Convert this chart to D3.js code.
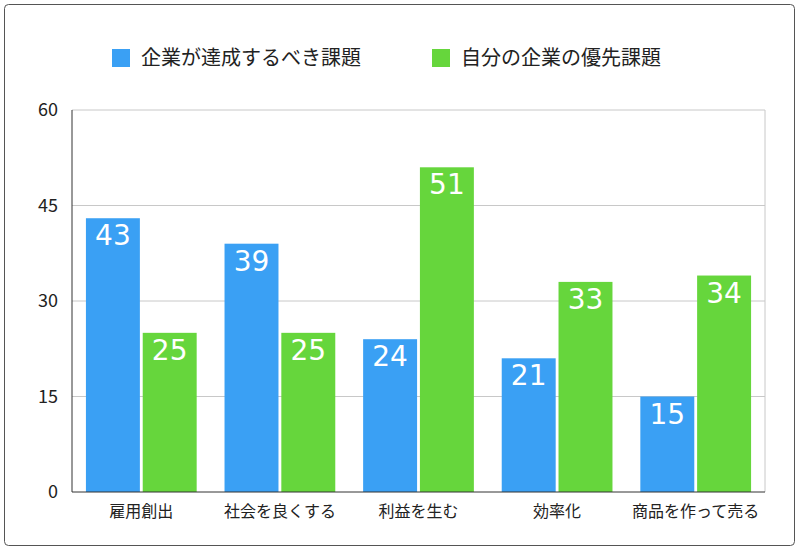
<!DOCTYPE html>
<html><head><meta charset="utf-8">
<script src="https://cdn.jsdelivr.net/npm/d3@7"></script>
<style>body{margin:0;background:#fff;font-family:"Noto Sans CJK JP","Noto Sans",sans-serif;}</style>
</head><body><div id="chart"></div>
<script>
const categories = ["雇用創出", "社会を良くする", "利益を生む", "効率化", "商品を作って売る"];
const seriesNames = ["企業が達成するべき課題", "自分の企業の優先課題"];
const companyGoals = [43, 39, 24, 21, 15];
const ownPriorities = [25, 25, 51, 33, 34];
const yTicks = [0, 15, 30, 45, 60];
const colors = ["#3aa0f4", "#66d63c"];

const W = 800, H = 551;
const svg = d3.select("#chart").append("svg").attr("width", W).attr("height", H);
svg.append("rect").attr("x", 4.5).attr("y", 4.5).attr("width", 790).attr("height", 541)
  .attr("rx", 4).attr("fill", "#fff").attr("stroke", "#555").attr("stroke-width", 1);

const plotLeft = 72, plotRight = 765, plotTop = 110, plotBottom = 492;
const x0 = d3.scaleBand().domain(categories).range([plotLeft, plotRight]).paddingInner(0.16).paddingOuter(0.08);
const x1 = d3.scaleBand().domain([0, 1]).range([0, x0.bandwidth()]).padding(0.05);
const y = d3.scaleLinear().domain([0, 60]).range([plotBottom, plotTop]);

// grid
svg.append("g").selectAll("line").data(yTicks.slice(1)).join("line")
  .attr("x1", plotLeft).attr("x2", plotRight).attr("y1", d => y(d)).attr("y2", d => y(d))
  .attr("stroke", "#c8c8c8");
svg.append("line").attr("x1", plotRight).attr("x2", plotRight).attr("y1", plotTop).attr("y2", plotBottom).attr("stroke", "#c8c8c8");

svg.append("g").selectAll("text").data(yTicks).join("text")
  .attr("x", 58).attr("y", d => y(d)).attr("dy", "0.35em").attr("text-anchor", "end")
  .attr("font-size", 18).attr("fill", "#222").text(d => d);

const rows = categories.map((c, i) => [companyGoals[i], ownPriorities[i]].map((v, s) => ({c, v, s})));
const g = svg.append("g").selectAll("g").data(rows).join("g")
  .attr("transform", d => `translate(${x0(d[0].c)},0)`);
g.selectAll("rect").data(d => d).join("rect")
  .attr("x", d => x1(d.s)).attr("width", x1.bandwidth())
  .attr("y", d => y(d.v)).attr("height", d => plotBottom - y(d.v))
  .attr("fill", d => colors[d.s]);
g.selectAll("text").data(d => d).join("text")
  .attr("x", d => x1(d.s) + x1.bandwidth() / 2).attr("y", d => y(d.v) + 27)
  .attr("text-anchor", "middle").attr("fill", "#fff").attr("font-size", 28)
  .attr("font-family", "DejaVu Sans, sans-serif").text(d => d.v);

svg.append("line").attr("x1", plotLeft).attr("x2", plotLeft).attr("y1", plotTop).attr("y2", plotBottom).attr("stroke", "#333");
svg.append("line").attr("x1", plotLeft).attr("x2", plotRight).attr("y1", plotBottom).attr("y2", plotBottom).attr("stroke", "#333");

svg.append("g").selectAll("text").data(categories).join("text")
  .attr("x", d => x0(d) + x0.bandwidth() / 2).attr("y", 517)
  .attr("text-anchor", "middle").attr("font-size", 16).attr("fill", "#222").text(d => d);

// legend
const legX = [112, 432];
const leg = svg.append("g").selectAll("g").data(seriesNames).join("g")
  .attr("transform", (d, i) => `translate(${legX[i]},49)`);
leg.append("rect").attr("width", 18).attr("height", 18).attr("fill", (d, i) => colors[i]);
leg.append("text").attr("x", 29).attr("y", 9).attr("dy", "0.35em")
  .attr("font-size", 20).attr("fill", "#222").text(d => d);
</script></body></html>
